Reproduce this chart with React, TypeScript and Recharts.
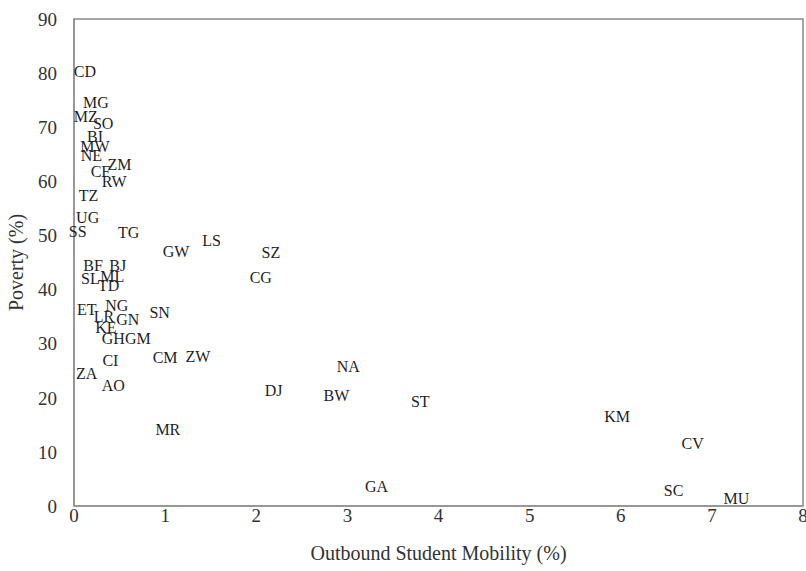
import React from 'react';
import {
  ScatterChart,
  Scatter,
  XAxis,
  YAxis,
  ReferenceArea,
} from 'recharts';

const countries = [
  'CD', 'MG', 'MZ', 'SO', 'BI', 'MW', 'NE', 'ZM', 'CF', 'RW',
  'TZ', 'UG', 'SS', 'TG', 'LS', 'GW', 'SZ', 'BF', 'BJ', 'CG',
  'SL', 'ML', 'TD', 'ET', 'NG', 'SN', 'LR', 'GN', 'KE', 'GH',
  'GM', 'CM', 'ZW', 'CI', 'ZA', 'AO', 'NA', 'DJ', 'BW', 'ST',
  'MR', 'KM', 'CV', 'GA', 'SC', 'MU',
];
const mobility = [
  0.12, 0.24, 0.13, 0.32, 0.23, 0.23, 0.19, 0.5, 0.29, 0.44,
  0.16, 0.15, 0.04, 0.6, 1.51, 1.12, 2.16, 0.21, 0.48, 2.05,
  0.18, 0.42, 0.38, 0.14, 0.47, 0.94, 0.33, 0.59, 0.35, 0.43,
  0.7, 1.0, 1.36, 0.4, 0.14, 0.43, 3.01, 2.19, 2.88, 3.8,
  1.03, 5.96, 6.79, 3.32, 6.58, 7.27,
];
const poverty = [
  80.3, 74.5, 72.0, 70.6, 68.3, 66.4, 64.7, 63.1, 61.8, 60.0,
  57.3, 53.3, 50.7, 50.6, 49.1, 47.1, 46.8, 44.4, 44.5, 42.3,
  42.0, 42.5, 40.7, 36.4, 37.0, 35.7, 35.1, 34.5, 32.9, 31.0,
  31.0, 27.5, 27.7, 26.8, 24.4, 22.3, 25.8, 21.4, 20.5, 19.4,
  14.2, 16.6, 11.6, 3.6, 2.9, 1.4,
];
const xTicks = [0, 1, 2, 3, 4, 5, 6, 7, 8];
const yTicks = [0, 10, 20, 30, 40, 50, 60, 70, 80, 90];

const data = countries.map((code, i) => ({
  code,
  x: mobility[i],
  y: poverty[i],
}));

const font = '"Liberation Serif", "Times New Roman", serif';
const axisGray = '#898989';

// country code drawn in place of a marker
const CodeLabel = (props: any) => {
  const { cx, cy, payload } = props;
  return (
    <text
      x={cx}
      y={cy}
      textAnchor="middle"
      dominantBaseline="central"
      fontFamily={font}
      fontSize={16}
      fill="#1f1f1f"
    >
      {payload.code}
    </text>
  );
};

const App = () => {
  return (
    <div style={{ position: 'absolute', left: 0, top: 0, fontFamily: font }}>
      <ScatterChart
        width={806}
        height={571}
        margin={{ top: 19, right: 3, bottom: 0, left: 0 }}
      >
        <XAxis
          type="number"
          dataKey="x"
          domain={[0, 8]}
          ticks={xTicks}
          interval={0}
          tickLine={false}
          tickSize={3}
          tickMargin={0}
          stroke={axisGray}
          height={65}
          tick={{ fill: '#333333', fontFamily: font, fontSize: 19 }}
          label={{
            value: 'Outbound Student Mobility (%)',
            position: 'insideBottom',
            offset: 11,
            fill: '#333333',
            fontFamily: font,
            fontSize: 20,
          }}
        />
        <YAxis
          type="number"
          dataKey="y"
          domain={[0, 90]}
          ticks={yTicks}
          interval={0}
          tickLine={false}
          tickSize={6}
          tickMargin={11}
          stroke={axisGray}
          width={74}
          tick={{ fill: '#333333', fontFamily: font, fontSize: 19 }}
          label={{
            value: 'Poverty (%)',
            angle: -90,
            position: 'insideLeft',
            offset: 16,
            fill: '#333333',
            fontFamily: font,
            fontSize: 20,
            style: { textAnchor: 'middle' },
          }}
        />
        <ReferenceArea
          x1={0}
          x2={8}
          y1={0}
          y2={90}
          fill="none"
          stroke={axisGray}
          strokeWidth={1.5}
        />
        <Scatter data={data} shape={CodeLabel} isAnimationActive={false} />
      </ScatterChart>
    </div>
  );
};

export default App;
